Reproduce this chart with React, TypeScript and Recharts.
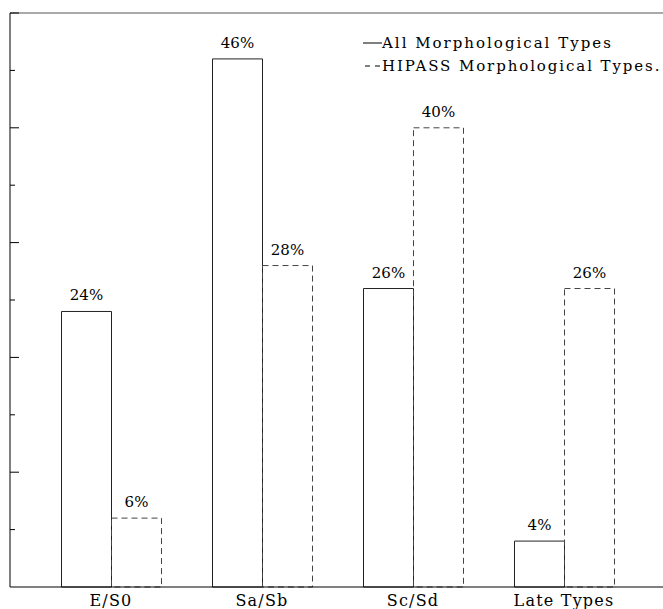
import React from 'react';
import { Bar, BarChart, LabelList, Legend, ReferenceLine, XAxis, YAxis } from 'recharts';

const categories = ['E/S0', 'Sa/Sb', 'Sc/Sd', 'Late Types'];
const allTypes = [24, 46, 26, 4];
const hipassTypes = [6, 28, 40, 26];
const yTicks = [0, 5, 10, 15, 20, 25, 30, 35, 40, 45, 50];

const data = categories.map((name, i) => ({ name, all: allTypes[i], hipass: hipassTypes[i] }));

const FONT = '"DejaVu Serif", serif';

const LeftTick = (props: any) => {
  const { x, y, payload } = props;
  if (payload.value === 0) return null;
  const len = payload.value % 10 === 0 ? 9 : 5;
  return <line x1={x} x2={x + len} y1={y} y2={y} stroke="#000" />;
};

const RightTick = (props: any) => {
  const { x, y, payload } = props;
  if (payload.value === 0) return null;
  const len = payload.value % 10 === 0 ? 9 : 5;
  return <line x1={x - len} x2={x} y1={y} y2={y} stroke="#000" />;
};

const CatTick = (props: any) => {
  const { x, y, payload } = props;
  return (
    <text x={x} y={y + 11} textAnchor="middle" fontFamily={FONT} fontSize={16} letterSpacing={1.2} fill="#000">
      {payload.value}
    </text>
  );
};

const renderLegend = () => (
  <svg width={300} height={50} style={{ display: 'block', overflow: 'visible' }}>
    <line x1={0} x2={19} y1={10} y2={10} stroke="#000" />
    <text x={19} y={15} fontFamily={FONT} fontSize={15} letterSpacing={2} fill="#000">All Morphological Types</text>
    <line x1={2} x2={18} y1={33} y2={33} stroke="#000" strokeDasharray="5 5" />
    <text x={19} y={38} fontFamily={FONT} fontSize={15} letterSpacing={1.9} fill="#000">HIPASS Morphological Types.</text>
  </svg>
);

const labelStyle = { fontFamily: FONT, fontSize: 15, fill: '#000' };

export default function App() {
  return (
    <div style={{ position: 'absolute', left: 0, top: 0, width: 663, height: 609, overflow: 'hidden', background: '#fff' }}>
      <BarChart width={680} height={617} data={data} margin={{ top: 13, right: 0, bottom: 0, left: 0 }} barGap={0}>
        <XAxis dataKey="name" height={30} padding={{ left: 25.5, right: 25.5 }} axisLine={{ stroke: '#000' }} tickLine={false} tick={<CatTick />} interval={0} />
        <YAxis yAxisId="l" width={10} domain={[0, 50]} ticks={yTicks} tickSize={0} tickMargin={0} tickLine={false} axisLine={{ stroke: '#000' }} tick={<LeftTick />} interval={0} />
        <YAxis yAxisId="r" orientation="right" width={15} domain={[0, 50]} ticks={yTicks} tickSize={0} tickMargin={0} tickLine={false} axisLine={{ stroke: '#000' }} tick={<RightTick />} interval={0} />
        <ReferenceLine yAxisId="l" y={50} stroke="#555" />
        <Legend layout="vertical" align="center" verticalAlign="middle" content={renderLegend} wrapperStyle={{ left: 363, top: 33, width: 300, height: 50 }} />
        <Bar yAxisId="l" dataKey="all" barSize={50} fill="#fff" stroke="#222" strokeWidth={1} isAnimationActive={false}>
          <LabelList dataKey="all" position="top" offset={11} formatter={(v: any) => `${v}%`} {...labelStyle} />
        </Bar>
        <Bar yAxisId="l" dataKey="hipass" barSize={50} fill="none" stroke="#444" strokeWidth={1} strokeDasharray="6 4" isAnimationActive={false}>
          <LabelList dataKey="hipass" position="top" offset={11} formatter={(v: any) => `${v}%`} {...labelStyle} />
        </Bar>
      </BarChart>
    </div>
  );
}
